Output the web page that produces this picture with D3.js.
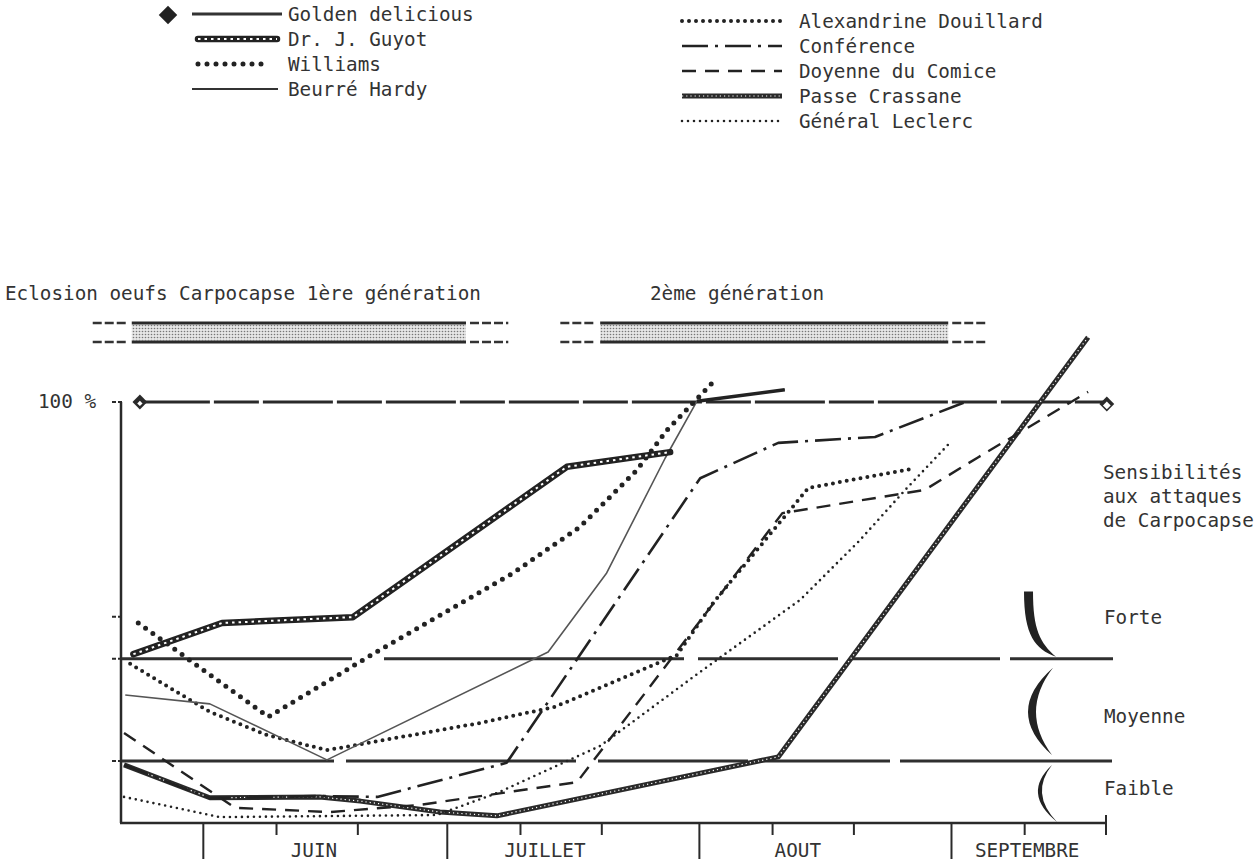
<!DOCTYPE html>
<html>
<head>
<meta charset="utf-8">
<script src="https://cdn.jsdelivr.net/npm/d3@7"></script>
<style>
  body { margin: 0; background: #fff; }
  svg text { font-family: "DejaVu Sans Mono", "Liberation Mono", monospace; font-size: 19.3px; fill: #333; }
</style>
</head>
<body>
<svg id="chart" width="1260" height="865"></svg>
<script>
// "jour" = day counted from 31 May (1 = 1 June, 31 = 1 July, 62 = 1 August, 93 = 1 September)
// values = % of fruits attacked / sensitivity level

const goldenJour = [-6.8, 112.1];
const goldenVal  = [100, 100];

const guyotJour = [-7.6, 3.3, 19.4, 45.7, 58.4];
const guyotVal  = [40.1, 47.5, 48.9, 84.6, 88.1];

const williamsJour = [-7.0, 9.0, 22.7, 39.1, 47.3, 54.3, 58.0, 63.9];
const williamsVal  = [47.5, 25.2, 41.1, 59.4, 70.3, 83.8, 93.3, 105.2];

const hardyJour = [-8.6, 1.8, 16.2, 43.4, 50.6, 57.8, 61.7, 72.5];
const hardyVal  = [30.4, 28.3, 15.0, 40.6, 59.4, 86.7, 100.2, 102.9];

const douillardJour = [-8.0, 1.8, 8.8, 16.2, 35.0, 44.25, 59.25, 63.7, 75.4, 88.1];
const douillardVal  = [37.8, 26.4, 20.9, 17.3, 23.75, 27.6, 39.9, 52.3, 79.6, 84.1];

const conferenceJour = [-8.75, 1.8, 15.3, 22.4, 38.3, 62.1, 71.7, 83.6, 95.0];
const conferenceVal  = [13.8, 5.9, 6.4, 6.2, 14.3, 81.9, 90.3, 91.7, 100.2];

const comiceJour = [-8.75, 4.9, 16.6, 27.6, 46.95, 72.2, 89.7, 96.3, 109.8];
const comiceVal  = [21.4, 3.6, 2.6, 4.3, 9.7, 73.6, 79.1, 86.9, 102.4];

const crassaneJour = [-8.75, 1.8, 15.3, 20.3, 30.1, 37.1, 71.7, 109.8];
const crassaneVal  = [13.8, 6.0, 6.2, 5.2, 2.6, 1.7, 15.7, 115.4];

const leclercJour = [-8.75, 3.05, 29.7, 37.1, 49.8, 62.1, 74.4, 81.75, 87.3, 92.8];
const leclercVal  = [6.2, 1.4, 1.9, 7.1, 18.3, 35.9, 53.0, 67.2, 79.1, 90.3];

// sensitivity class limits (Forte / Moyenne / Faible)
const classLimits = [39, 14.7];
const classNames  = ["Forte", "Moyenne", "Faible"];

// months
const monthNames = ["JUIN", "JUILLET", "AOUT", "SEPTEMBRE"];
const monthStart = [1, 31, 62, 93];
const decadeTicks = [10, 20, 40, 50, 71, 81, 102, 112];

// egg hatching periods of the codling moth (core period, uncertain extension)
const hatchLabels = ["Eclosion oeufs Carpocapse 1ère génération", "2ème génération"];
const hatchCore   = [[-7.8, 33.3], [49.8, 92.6]];
const hatchExtent = [[-12.6, 38.5], [44.9, 97.4]];

// ---------------------------------------------------------------------------
const svg = d3.select("#chart");
const x = d3.scaleLinear().domain([-9, 112]).range([122, 1106]);
const y = d3.scaleLinear().domain([0, 100]).range([823, 402]);
const line = d3.line().x(d => x(d[0])).y(d => y(d[1]));
const zip = (a, b) => a.map((v, i) => [v, b[i]]);

const defs = svg.append("defs");
const pat = defs.append("pattern").attr("id", "stipple")
  .attr("width", 3).attr("height", 3).attr("patternUnits", "userSpaceOnUse");
pat.append("rect").attr("width", 3).attr("height", 3).attr("fill", "#e6e6e6");
pat.append("circle").attr("cx", 1.5).attr("cy", 1.5).attr("r", 0.8).attr("fill", "#777");

// line styles, one stack of strokes per variety
const styles = {
  golden:     [{ stroke: "#2a2a2a", width: 3, dash: "70,4,45,4" }],
  guyot:      [{ stroke: "#222", width: 6.5, cap: "round" }, { stroke: "#fff", width: 2, dash: "2.5,4" }],
  williams:   [{ stroke: "#222", width: 5, dash: "0,9", cap: "round" }],
  hardy:      [{ stroke: "#555", width: 1.6 }],
  douillard:  [{ stroke: "#222", width: 4, dash: "0,7", cap: "round" }],
  conference: [{ stroke: "#222", width: 2.6, dash: "26,7,3,7" }],
  comice:     [{ stroke: "#222", width: 2.4, dash: "14,9" }],
  crassane:   [{ stroke: "#2a2a2a", width: 5 }, { stroke: "#fff", width: 1.2, dash: "1.2,3" }],
  leclerc:    [{ stroke: "#222", width: 2.6, dash: "0,6", cap: "round" }]
};

function strokeStack(g, d, stack) {
  stack.forEach(s => {
    g.append("path").attr("d", d)
      .attr("fill", "none")
      .attr("stroke", s.stroke)
      .attr("stroke-width", s.width)
      .attr("stroke-dasharray", s.dash || null)
      .attr("stroke-linecap", s.cap || "butt")
      .attr("stroke-linejoin", "round");
  });
}

// ---- hatching bars
const hatch = svg.append("g");
const barTop = 323, barBot = 342;
hatchCore.forEach((r, i) => {
  hatch.append("rect").attr("x", x(r[0])).attr("y", barTop + 1.5)
    .attr("width", x(r[1]) - x(r[0])).attr("height", barBot - barTop - 3)
    .attr("fill", "url(#stipple)");
  [barTop, barBot].forEach(yy => {
    hatch.append("line").attr("x1", x(r[0])).attr("x2", x(r[1]))
      .attr("y1", yy).attr("y2", yy).attr("stroke", "#2a2a2a").attr("stroke-width", 3);
    hatch.append("line").attr("x1", x(hatchExtent[i][0])).attr("x2", x(r[0]) - 4)
      .attr("y1", yy).attr("y2", yy).attr("stroke", "#333").attr("stroke-width", 2.5)
      .attr("stroke-dasharray", "9,3");
    hatch.append("line").attr("x1", x(r[1]) + 4).attr("x2", x(hatchExtent[i][1]))
      .attr("y1", yy).attr("y2", yy).attr("stroke", "#333").attr("stroke-width", 2.5)
      .attr("stroke-dasharray", "9,3");
  });
});
hatch.append("text").attr("x", 5).attr("y", 300).text(hatchLabels[0]);
hatch.append("text").attr("x", 650).attr("y", 300).text(hatchLabels[1]);

// ---- axes
const axes = svg.append("g").attr("stroke", "#2a2a2a");
axes.append("line").attr("x1", x(-9) - 1).attr("x2", x(-9) - 1)
  .attr("y1", y(100)).attr("y2", y(0)).attr("stroke-width", 2.5);
axes.append("line").attr("x1", x(-9) - 2).attr("x2", x(112))
  .attr("y1", y(0)).attr("y2", y(0)).attr("stroke-width", 2.5);
[100, 49].concat(classLimits).forEach(v => {
  axes.append("line").attr("x1", x(-9) - 10).attr("x2", x(-9))
    .attr("y1", y(v)).attr("y2", y(v)).attr("stroke-width", 2).attr("stroke-dasharray", "4,2");
});
monthStart.forEach(d => {
  axes.append("line").attr("x1", x(d)).attr("x2", x(d))
    .attr("y1", y(0)).attr("y2", y(0) + 36).attr("stroke-width", 2);
});
decadeTicks.forEach(d => {
  axes.append("line").attr("x1", x(d)).attr("x2", x(d))
    .attr("y1", y(0) - (d === 112 ? 8 : 0)).attr("y2", y(0) + 12).attr("stroke-width", 2);
});
// month labels sit over the middle decade of each month
const monthLabelJour = [14.6, 43, 74.1, 102.3];
monthNames.forEach((m, i) => {
  svg.append("text").attr("x", x(monthLabelJour[i])).attr("y", 857)
    .attr("text-anchor", "middle").text(m);
});
svg.append("text").attr("x", 38).attr("y", 408).text("100 %");

// ---- class limits
const limits = svg.append("g");
classLimits.forEach((v, i) => {
  limits.append("line").attr("x1", x(-9)).attr("x2", 1113)
    .attr("y1", y(v)).attr("y2", y(v))
    .attr("stroke", "#2f2f2f").attr("stroke-width", 3)
    .attr("stroke-dasharray", i === 0 ? "230,32,300,14,140,12,150,10" : "212,12,230,22,150,12,130,10");
});

// ---- series
const plot = svg.append("g");
strokeStack(plot, line(zip(goldenJour, goldenVal)), styles.golden);
strokeStack(plot, line(zip(crassaneJour, crassaneVal)), styles.crassane);
strokeStack(plot, line(zip(conferenceJour, conferenceVal)), styles.conference);
strokeStack(plot, line(zip(comiceJour, comiceVal)), styles.comice);
strokeStack(plot, line(zip(leclercJour, leclercVal)), styles.leclerc);
strokeStack(plot, line(zip(douillardJour, douillardVal)), styles.douillard);
strokeStack(plot, line(zip(hardyJour, hardyVal)), styles.hardy);
// last stretch of Beurré Hardy above 100 % is drawn heavier
strokeStack(plot, line(zip(hardyJour, hardyVal).slice(-2)), [{ stroke: "#222", width: 3.5 }]);
strokeStack(plot, line(zip(williamsJour, williamsVal)), styles.williams);
strokeStack(plot, line(zip(guyotJour, guyotVal)), styles.guyot);

// Golden delicious end markers
const square = d3.symbol().type(d3.symbolSquare);
[goldenJour[0], goldenJour[1]].forEach((d, i) => {
  const tx = `translate(${x(d)},${y(goldenVal[i]) + (i ? 2 : 0)}) rotate(45)`;
  plot.append("path").attr("d", square.size(110)()).attr("transform", tx).attr("fill", "#2a2a2a");
  plot.append("path").attr("d", square.size(i ? 30 : 14)()).attr("transform", tx + " translate(1,1)").attr("fill", "#fff");
});

// ---- sensitivity braces
const braces = svg.append("g").attr("fill", "#222");
{
  const t = y(55), b = y(classLimits[0]) - 2;
  braces.append("path").attr("d",
    `M1024,${t} L1033,${t} C1033,${t + 38} 1040,${b - 14} 1056,${b}
     C1035,${b - 8} 1024,${t + 44} 1024,${t} Z`);
}
{
  const t = y(classLimits[0]) + 9, b = y(classLimits[1]) - 6, m = (t + b) / 2;
  braces.append("path").attr("d",
    `M1053,${t} Q1003.5,${m} 1052,${b} Q1019.5,${m} 1053,${t} Z`);
}
{
  const t = y(classLimits[1]) + 4, b = y(0) - 1, m = (t + b) / 2;
  braces.append("path").attr("d",
    `M1052,${t} Q1021.5,${m} 1057,${b} Q1029.5,${m} 1052,${t} Z`);
}
svg.append("text").attr("x", 1103).attr("y", 479).text("Sensibilités");
svg.append("text").attr("x", 1103).attr("y", 503).text("aux attaques");
svg.append("text").attr("x", 1103).attr("y", 527).text("de Carpocapse");
[624, 723, 795].forEach((yy, i) => {
  svg.append("text").attr("x", 1104).attr("y", yy).text(classNames[i]);
});

// ---- legend
const legendLeft = [
  ["Golden delicious", "golden", 192, 282],
  ["Dr. J. Guyot", "guyot", 198, 277],
  ["Williams", "williams", 198, 268],
  ["Beurré Hardy", "hardy", 192, 278]
];
const legendRight = [
  ["Alexandrine Douillard", "douillard"],
  ["Conférence", "conference"],
  ["Doyenne du Comice", "comice"],
  ["Passe Crassane", "crassane"],
  ["Général Leclerc", "leclerc"]
];
const leg = svg.append("g");
legendLeft.forEach((r, i) => {
  const yy = 14 + i * 25;
  const st = r[1] === "golden" ? [{ stroke: "#333", width: 3 }]
           : r[1] === "hardy" ? [{ stroke: "#333", width: 2.2 }]
           : styles[r[1]];
  strokeStack(leg, `M${r[2]},${yy}L${r[3]},${yy}`, st);
  leg.append("text").attr("x", 288).attr("y", yy + 7).text(r[0]);
});
leg.append("path").attr("d", square.size(170)())
  .attr("transform", "translate(168,15) rotate(45)").attr("fill", "#222");
legendRight.forEach((r, i) => {
  const yy = 21 + i * 25;
  strokeStack(leg, `M682,${yy}L782,${yy}`, styles[r[1]]);
  leg.append("text").attr("x", 799).attr("y", yy + 7).text(r[0]);
});
</script>
</body>
</html>
